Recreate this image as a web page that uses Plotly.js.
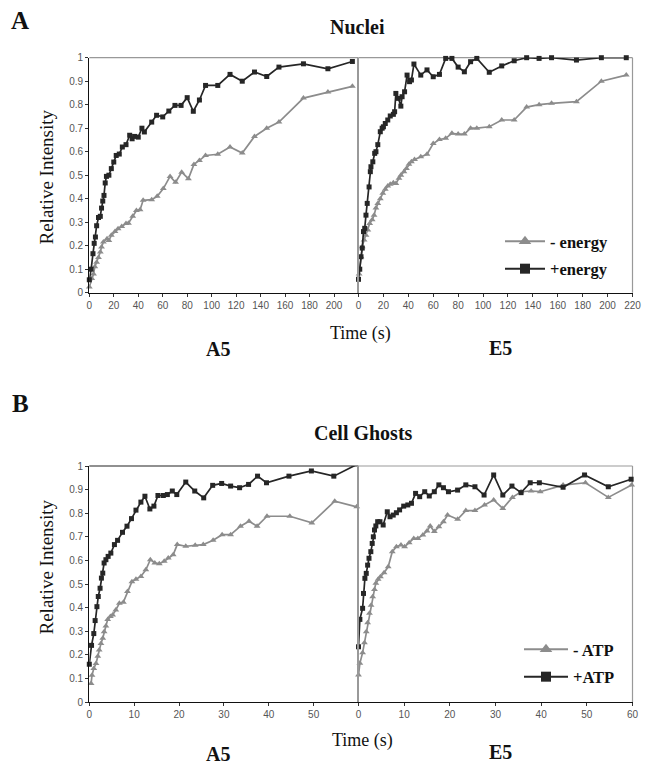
<!DOCTYPE html>
<html>
<head>
<meta charset="utf-8">
<script src="https://cdn.plot.ly/plotly-3.0.1.min.js"></script>
<style>
html,body{margin:0;padding:0;background:#fff;}
#chart{width:645px;height:766px;}
#chart g.traces{opacity:1 !important;}
</style>
</head>
<body>
<div id="chart"></div>
<script>
// ---------- DATA ----------
// Nuclei, A5
const nucA5_plus_t = [0,1.5,3,4,5,6,7.5,9,10,11,12,13,14,16,18,20,22,24.5,27,30,33,35,37,40,43,45,51,55,60,65,70,75,80,85,90,95,105,115,125,135,145,155,175,195,215];
const nucA5_plus_v = [0.055,0.10,0.166,0.21,0.237,0.285,0.32,0.325,0.36,0.39,0.414,0.467,0.495,0.50,0.528,0.556,0.584,0.59,0.62,0.63,0.67,0.655,0.665,0.662,0.70,0.684,0.726,0.755,0.748,0.773,0.797,0.797,0.83,0.772,0.82,0.882,0.882,0.929,0.90,0.939,0.92,0.96,0.974,0.953,0.984];
const nucA5_minus_t = [0,2,3.5,4.5,6,7.5,9,10,11.5,14.5,16,18,21,23.5,26.5,30,32,35.5,38.5,41.5,44,51,55.5,60.5,66,70.5,75.5,81,85.5,90,95,105,115,125,135,145,155,175,195,215];
const nucA5_minus_v = [0.024,0.06,0.08,0.11,0.13,0.15,0.173,0.194,0.216,0.23,0.222,0.244,0.26,0.272,0.282,0.294,0.296,0.325,0.35,0.353,0.393,0.396,0.41,0.443,0.495,0.47,0.513,0.485,0.546,0.563,0.584,0.589,0.62,0.594,0.665,0.70,0.726,0.828,0.854,0.878];
// Nuclei, E5
const nucE5_plus_t = [0,1,2,3,4,5,6,7,8.5,9.5,10,11.5,13,14,15.5,17.5,19,20,21.5,23.5,25.5,28,29,30,32,34,35,37,39,41,42.5,44.5,50,55,60,65,70,75,80,85,90,95,105,115,125,135,145,155,175,195,215];
const nucE5_plus_v = [0.057,0.10,0.153,0.19,0.26,0.274,0.33,0.38,0.45,0.515,0.536,0.557,0.593,0.60,0.63,0.685,0.70,0.706,0.72,0.735,0.752,0.759,0.77,0.848,0.827,0.794,0.834,0.855,0.926,0.898,0.905,0.973,0.926,0.948,0.919,0.929,0.997,0.997,0.96,0.94,0.983,0.997,0.938,0.965,0.987,1.0,0.997,1.0,0.99,1.0,1.0];
const nucE5_minus_t = [0.5,2,3,4.5,6,7.5,9,11,12.5,14,15.5,17.5,19.5,21.5,23.5,25.5,28,30,32.5,34,36.5,38.5,40.5,42.5,45,50,55,60,65,70,75,80,85,90,95,105,115,125,135,145,155,175,195,215];
const nucE5_minus_v = [0.08,0.153,0.196,0.224,0.245,0.267,0.295,0.31,0.33,0.36,0.38,0.40,0.423,0.44,0.454,0.462,0.468,0.465,0.487,0.50,0.515,0.529,0.547,0.557,0.567,0.579,0.589,0.635,0.652,0.657,0.678,0.675,0.675,0.70,0.70,0.706,0.735,0.735,0.79,0.80,0.806,0.813,0.90,0.926];
// Cell ghosts, A5
const ghA5_plus_t = [0,0.5,1,1.3,1.7,2,2.4,2.7,3,3.3,3.7,4.2,4.8,5.6,6.3,7.4,8.4,9.4,10.4,11.5,12.4,13.5,14.4,15.3,16.5,17.4,18.5,19.5,21.5,23.5,25.5,27.5,29.5,31.5,33.5,35.5,37.5,39.5,44.5,49.5,54.5,60];
const ghA5_plus_v = [0.16,0.24,0.29,0.345,0.404,0.447,0.482,0.525,0.546,0.589,0.603,0.617,0.631,0.667,0.685,0.719,0.745,0.777,0.813,0.847,0.872,0.818,0.83,0.875,0.875,0.879,0.894,0.879,0.932,0.894,0.865,0.918,0.926,0.915,0.908,0.922,0.957,0.929,0.957,0.979,0.957,1.01];
const ghA5_minus_t = [0.4,0.6,1,1.5,1.9,2.2,2.6,3,3.3,3.7,4.1,4.7,5.2,5.9,6.7,7.6,8.5,9.5,10.4,11.5,12.6,13.6,14.6,15.6,16.7,17.6,18.7,19.6,21.5,23.6,25.4,27.6,29.6,31.5,33.7,35.6,37.4,39.6,44.7,49.6,54.7,59.6];
const ghA5_minus_v = [0.078,0.113,0.142,0.163,0.194,0.22,0.248,0.27,0.298,0.322,0.35,0.362,0.369,0.39,0.418,0.423,0.468,0.51,0.52,0.532,0.56,0.603,0.589,0.586,0.596,0.61,0.624,0.667,0.66,0.664,0.667,0.685,0.709,0.709,0.745,0.766,0.745,0.787,0.787,0.759,0.851,0.827];
// Cell ghosts, E5
const ghE5_plus_t = [0,0.3,0.9,1.1,1.4,1.7,2,2.3,2.7,3,3.25,3.5,3.8,4.2,4.7,5.4,6.3,6.9,7.6,8.3,9,9.9,10.8,11.6,12.5,13.4,14.5,15.5,16.6,17.6,18.6,19.7,21.7,23.5,25.5,27.5,29.6,31.6,33.6,35.6,37.6,39.6,44.8,49.5,54.7,59.7];
const ghE5_plus_v = [0.234,0.35,0.397,0.46,0.524,0.545,0.58,0.609,0.637,0.672,0.70,0.729,0.746,0.764,0.764,0.75,0.806,0.785,0.792,0.802,0.814,0.83,0.835,0.842,0.884,0.87,0.891,0.873,0.891,0.92,0.908,0.891,0.898,0.92,0.912,0.877,0.962,0.877,0.915,0.887,0.929,0.929,0.91,0.962,0.912,0.944];
const ghE5_minus_t = [0,0.3,0.9,1.3,1.7,2,2.4,2.75,3.1,3.5,3.8,4.3,4.8,5.6,6.5,7.4,8.3,9.3,10.1,11.1,12.1,13,14.1,15,15.7,16.6,17.6,18.6,19.5,21.7,23.5,25.5,27.6,29.6,31.6,33.7,35.6,37.8,39.8,44.8,49.7,54.7,59.8];
const ghE5_minus_v = [0.114,0.164,0.209,0.251,0.298,0.336,0.376,0.41,0.446,0.477,0.503,0.52,0.531,0.548,0.573,0.637,0.658,0.665,0.658,0.675,0.693,0.693,0.708,0.725,0.746,0.722,0.743,0.764,0.792,0.774,0.811,0.811,0.835,0.856,0.82,0.867,0.891,0.894,0.891,0.919,0.929,0.867,0.919];

const nucTicksLeft = [0,20,40,60,80,100,120,140,160,180,200];
const nucTicksRight = [0,20,40,60,80,100,120,140,160,180,200,220];
const ghTicksLeft = [0,10,20,30,40,50];
const ghTicksRight = [0,10,20,30,40,50,60];
const yTicks = [0,0.1,0.2,0.3,0.4,0.5,0.6,0.7,0.8,0.9,1];

// ---------- STYLE ----------
const DARK = '#262626', GRAY = '#8c8c8c';
const W = 645, H = 766;
const px = v => v / W, py = v => 1 - v / H;

function series(x, y, xa, ya, name, leg, isPlus) {
  return {x: x, y: y, xaxis: xa, yaxis: ya, type: 'scatter', mode: 'lines+markers', name: name,
    legend: leg, legendgroup: name, showlegend: false, cliponaxis: false,
    line: {color: isPlus ? DARK : GRAY, width: 1.7},
    marker: {symbol: isPlus ? 'square' : 'triangle-up', size: isPlus ? 5 : 6, color: isPlus ? DARK : GRAY}};
}
// legend-only copies (same data) so the legend keys get the larger symbols of the original
function legendKey(base) {
  const t = Object.assign({}, base);
  t.showlegend = true; t.visible = 'legendonly';
  t.line = {color: base.line.color, width: 2};
  t.marker = {symbol: base.marker.symbol, size: base.marker.symbol === 'square' ? 10 : 11, color: base.marker.color};
  return t;
}

const s1 = series(nucA5_minus_t, nucA5_minus_v, 'x', 'y', '- energy', 'legend', false);
const s2 = series(nucA5_plus_t, nucA5_plus_v, 'x', 'y', '+energy', 'legend', true);
const s3 = series(nucE5_minus_t, nucE5_minus_v, 'x2', 'y2', '- energy', 'legend', false);
const s4 = series(nucE5_plus_t, nucE5_plus_v, 'x2', 'y2', '+energy', 'legend', true);
const s5 = series(ghA5_minus_t, ghA5_minus_v, 'x3', 'y3', '- ATP', 'legend2', false);
const s6 = series(ghA5_plus_t, ghA5_plus_v, 'x3', 'y3', '+ATP', 'legend2', true);
const s7 = series(ghE5_minus_t, ghE5_minus_v, 'x4', 'y4', '- ATP', 'legend2', false);
const s8 = series(ghE5_plus_t, ghE5_plus_v, 'x4', 'y4', '+ATP', 'legend2', true);
const traces = [s1, s2, s3, s4, s5, s6, s7, s8, legendKey(s3), legendKey(s4), legendKey(s7), legendKey(s8)];

const tickFont = {family: 'Liberation Sans', size: 10, color: '#555'};
const xL = [px(89.3), px(358.5)], xR = [px(358.5), px(632.5)];
const yT = [py(292.7), py(57.7)], yB = [py(702), py(466)];

function xax(domain, anchor, range, tv) {
  return {domain: domain, anchor: anchor, range: range, tickvals: tv, ticktext: tv.map(String),
    showline: true, linecolor: '#111', linewidth: 1.2, ticks: 'outside', ticklen: 3, tickcolor: '#333',
    tickfont: tickFont, showgrid: false, zeroline: false, fixedrange: true};
}
function yaxLeft(domain, anchor) {
  return {domain: domain, anchor: anchor, range: [0, 1], tickvals: yTicks, ticktext: yTicks.map(String),
    showline: true, linecolor: '#111', linewidth: 1.2, ticks: 'outside', ticklen: 3, tickcolor: '#333',
    tickfont: tickFont, showgrid: false, zeroline: false, fixedrange: true};
}
function yaxRight(domain, anchor) {
  return {domain: domain, anchor: anchor, range: [0, 1], showticklabels: false, ticks: '',
    showline: true, linecolor: '#999', linewidth: 1.2, showgrid: false, zeroline: false, fixedrange: true};
}
function frameLine(xr, yr, x0, y0, x1, y1, color) {
  return {type: 'line', xref: xr + ' domain', yref: yr + ' domain', x0: x0, y0: y0, x1: x1, y1: y1,
    line: {color: color, width: 1.2}, layer: 'below'};
}

const serif = 'Liberation Serif';
function ann(text, x, y, size, bold, angle) {
  return {text: text, xref: 'paper', yref: 'paper', x: px(x), y: py(y), xanchor: 'center', yanchor: 'middle',
    showarrow: false, textangle: angle || 0,
    font: {family: serif, size: size, color: '#111', weight: bold ? 'bold' : 'normal'}};
}

const legFont = {family: serif, size: 16.5, color: '#111', weight: 'bold'};
const layout = {
  width: W, height: H, margin: {l: 0, r: 0, t: 0, b: 0},
  paper_bgcolor: '#fff', plot_bgcolor: 'rgba(0,0,0,0)',
  xaxis: xax(xL, 'y', [0, 220], nucTicksLeft),
  yaxis: yaxLeft(yT, 'x'),
  xaxis2: xax(xR, 'y2', [0, 220], nucTicksRight),
  yaxis2: yaxRight(yT, 'x2'),
  xaxis3: xax(xL, 'y3', [0, 60], ghTicksLeft),
  yaxis3: yaxLeft(yB, 'x3'),
  xaxis4: xax(xR, 'y4', [0, 60], ghTicksRight),
  yaxis4: yaxRight(yB, 'x4'),
  shapes: [
    frameLine('x', 'y', 0, 1, 1, 1, '#999'),
    frameLine('x2', 'y2', 0, 1, 1, 1, '#999'),
    frameLine('x2', 'y2', 1, 0, 1, 1, '#999'),
    frameLine('x3', 'y3', 0, 1, 1, 1, '#222'),
    frameLine('x4', 'y4', 0, 1, 1, 1, '#999'),
    frameLine('x4', 'y4', 1, 0, 1, 1, '#999')
  ],
  legend: {x: px(500), y: py(224), xanchor: 'left', yanchor: 'top', bgcolor: 'rgba(0,0,0,0)',
    font: legFont, tracegroupgap: 3, traceorder: 'grouped', itemwidth: 40},
  legend2: {x: px(519), y: py(632), xanchor: 'left', yanchor: 'top', bgcolor: 'rgba(0,0,0,0)',
    font: legFont, tracegroupgap: 3, traceorder: 'grouped', itemwidth: 44},
  annotations: [
    ann('A', 20, 21, 25, true),
    ann('Nuclei', 357, 27, 20, true),
    ann('Relative Intensity', 45.5, 177, 19, false, -90),
    ann('Time (s)', 361, 333, 18, false),
    ann('A5', 218, 349, 20, true),
    ann('E5', 500, 348, 20, true),
    ann('B', 20, 403, 25, true),
    ann('Cell Ghosts', 363, 433, 20, true),
    ann('Relative Intensity', 45.5, 567, 19, false, -90),
    ann('Time (s)', 362, 740, 18, false),
    ann('A5', 218, 754, 20, true),
    ann('E5', 500, 752, 20, true)
  ]
};

Plotly.newPlot('chart', traces, layout, {staticPlot: true, displayModeBar: false});
</script>
</body>
</html>
